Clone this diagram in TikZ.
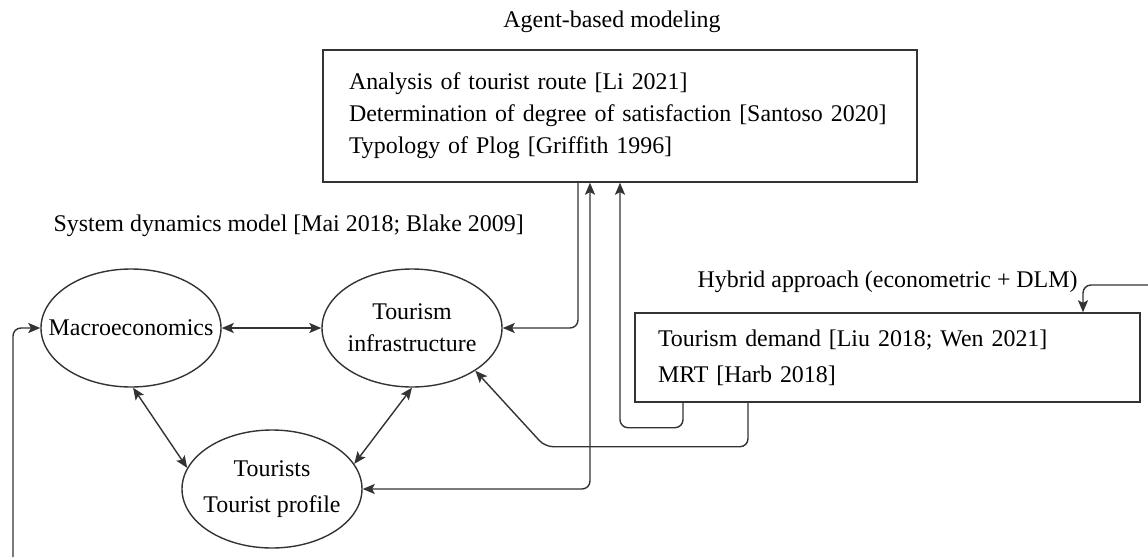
\documentclass[tikz,border=0pt]{standalone}
\usepackage{fontspec}
\setmainfont{Liberation Serif}
\usetikzlibrary{positioning,arrows.meta,shapes.geometric}

\begin{document}
\begin{tikzpicture}[x=1pt, y=-1pt,
  font=\fontsize{23.9pt}{32pt}\selectfont,
  line width=1.4pt,
  >={Stealth[length=12pt,width=10pt,inset=2.5pt]},
  box/.style={draw=black!80, inner xsep=24pt, inner ysep=0pt, align=left},
  oval/.style={draw=black!80, ellipse, minimum width=180pt, minimum height=118pt, inner sep=0pt},
  lbl/.style={align=center, inner sep=0pt},
  tag/.style={inner sep=3pt},
  link/.style={draw=black!80, rounded corners=8pt, ->},
  both/.style={link, <->}]
\useasboundingbox (0,0) rectangle (1148,557);
% upper level: agent-based modeling
\node[box, inner xsep=26pt, text width=542pt, minimum height=132pt] (abm) at (620,116) {Analysis of tourist route [Li 2021]\\ Determination of degree of satisfaction [Santoso 2020]\\ Typology of Plog [Griffith 1996]};
\node[tag] (abmtag) at (612,22) {Agent-based modeling};
% hybrid approach
\node[box, inner xsep=23pt, text width=459pt, minimum height=89pt] (hyb) at (887.5,357.5) {Tourism demand [Liu 2018; Wen 2021]\\[4pt] MRT [Harb 2018]};
\node[tag, anchor=west] (hybtag) at (694,282) {Hybrid approach (econometric + DLM)};
% system dynamics
\node[tag, anchor=west] (sdtag) at (50,226) {System dynamics model [Mai 2018; Blake 2009]};
\node[oval, label={[lbl]center:Macroeconomics}] (macro) at (131,328) {};
\node[oval, label={[lbl]center:{Tourism\\infrastructure}}] (infra) at (412,328) {};
\node[oval, label={[lbl]center:{Tourists\\[4pt]Tourist profile}}] (tourists) at (272,489) {};
% connectors
\draw[both] (macro.east) -- (infra.west);
\draw[both] (macro.272) -- (tourists.166);
\draw[both] (infra.south) -- (tourists.17);
\draw[link] ([xshift=-42pt]abm.south) |- (infra.east);
\draw[both] ([xshift=-30pt]abm.south) |- (tourists.east);
\draw[link] ([xshift=-204.5pt]hyb.south) -- ++(0,25) -| (abm.south);
\draw[link] ([xshift=-139.5pt]hyb.south) -- ++(0,44) -- ++(-203,0) -- (infra.-34);
\coordinate (hybloop) at (1148,285);
\draw[link] (hybloop) -| ([xshift=195.5pt]hyb.north);
\coordinate (sdloop) at (13,557);
\draw[link] (sdloop) |- (macro.west);
\end{tikzpicture}
\end{document}
